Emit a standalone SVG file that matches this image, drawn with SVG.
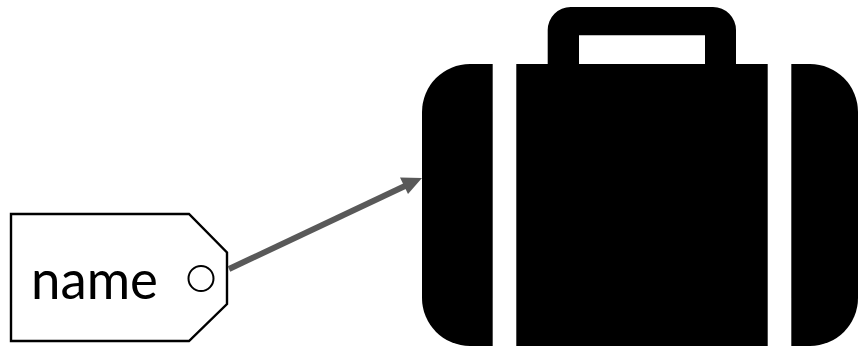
<svg xmlns="http://www.w3.org/2000/svg" width="858" height="346" viewBox="0 0 858 346">
<style>
.tagline{fill:#fff;stroke:#000;stroke-width:2.4}
.label{font-family:"Lato","Liberation Sans",sans-serif;font-size:53.500px;font-weight:400;fill:#000}
.conn{stroke:#595959;stroke-width:6;fill:none}
</style>
<rect width="858" height="346" fill="#fff"/>
<g id="suitcase" fill="#000">
<path d="M492.7 64V346H470A48 48 0 0 1 422 298V112A48 48 0 0 1 470 64Z"/>
<path fill-rule="evenodd" d="M516.3 64H547.700V30A23 23 0 0 1 570.7 7H713A23 23 0 0 1 736 30V64H767.7V346H516.3ZM579 35.3V64H705V35.3Z"/>
<path d="M791.3 64H810A48 48 0 0 1 858 112V298A48 48 0 0 1 810 346H791.3Z"/>
</g>
<g id="tag">
<path class="tagline" d="M11 214H189L227 252.5V304L189 341H11Z"/>
<circle cx="201" cy="278.500" r="12.5" fill="#fff" stroke="#000" stroke-width="2"/>
<text class="label" x="31" y="298.500" textLength="127" lengthAdjust="spacingAndGlyphs">name</text>
</g>
<g id="connectors">
<path class="conn" d="M229 269L405 186"/>
<polygon points="422,178 400,177.500 408,194" fill="#595959"/>
</g>
</svg>
